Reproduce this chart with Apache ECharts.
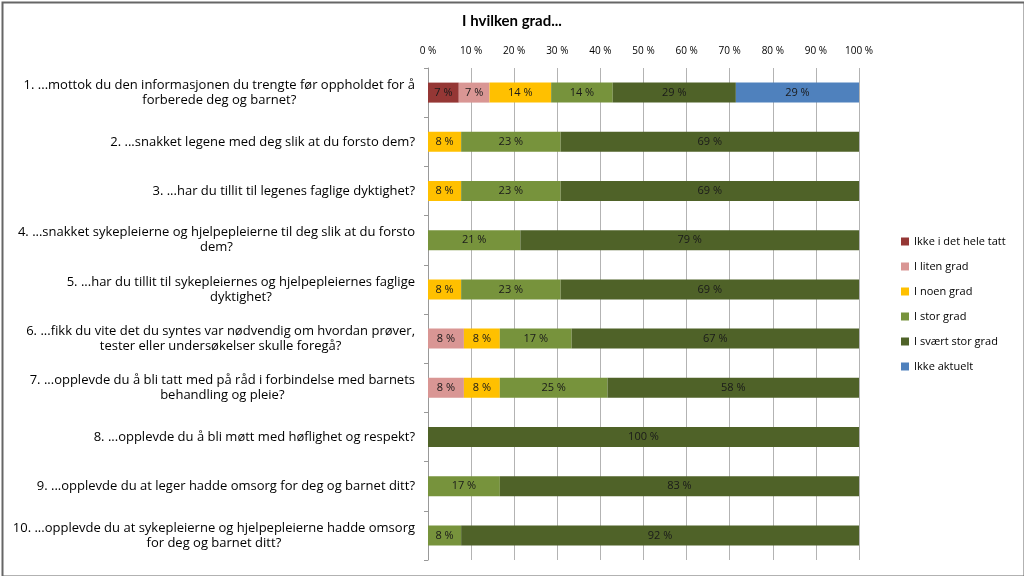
<!DOCTYPE html>
<html><head><meta charset="utf-8">
<script src="https://cdn.jsdelivr.net/npm/echarts@6/dist/echarts.min.js"></script>
<style>html,body{margin:0;padding:0;background:#fff}#c{width:1024px;height:576px}</style>
</head><body><div id="c"></div>
<script>
const categories = [
  "1. ...mottok du den informasjonen du trengte før oppholdet for å\nforberede deg og barnet?",
  "2. ...snakket legene med deg slik at du forsto dem?",
  "3. ...har du tillit til legenes faglige dyktighet?",
  "4. ...snakket sykepleierne og hjelpepleierne til deg slik at du forsto\ndem?",
  "5. ...har du tillit til sykepleiernes og hjelpepleiernes faglige\ndyktighet?",
  "6. ...fikk du vite det du syntes var nødvendig om hvordan prøver,\ntester eller undersøkelser skulle foregå?",
  "7. ...opplevde du å bli tatt med på råd i forbindelse med barnets\nbehandling og pleie?",
  "8. ...opplevde du å bli møtt med høflighet og respekt?",
  "9. ...opplevde du at leger hadde omsorg for deg og barnet ditt?",
  "10. ...opplevde du at sykepleierne og hjelpepleierne hadde omsorg\nfor deg og barnet ditt?"
];
const seriesNames = ["Ikke i det hele tatt", "I liten grad", "I noen grad", "I stor grad", "I svært stor grad", "Ikke aktuelt"];
const ikkeIDetHeleTatt = [7.14, 0, 0, 0, 0, 0, 0, 0, 0, 0];
const iLitenGrad       = [7.14, 0, 0, 0, 0, 8.33, 8.33, 0, 0, 0];
const iNoenGrad        = [14.29, 7.69, 7.69, 0, 7.69, 8.33, 8.33, 0, 0, 0];
const iStorGrad        = [14.29, 23.08, 23.08, 21.43, 23.08, 16.67, 25.0, 0, 16.67, 7.69];
const iSvaertStorGrad  = [28.57, 69.23, 69.23, 78.57, 69.23, 66.67, 58.34, 100, 83.33, 92.31];
const ikkeAktuelt      = [28.57, 0, 0, 0, 0, 0, 0, 0, 0, 0];
const xTicks = [0, 10, 20, 30, 40, 50, 60, 70, 80, 90, 100];
const colors = ["#953735", "#D99694", "#FFC000", "#77933C", "#4F6228", "#4F81BD"];

const allData = [ikkeIDetHeleTatt, iLitenGrad, iNoenGrad, iStorGrad, iSvaertStorGrad, ikkeAktuelt];
const FONT = "Open Sans";

const chart = echarts.init(document.getElementById('c'));
chart.setOption({
  animation: false,
  color: colors,
  title: {
    text: "I hvilken grad...",
    left: 'center', top: 9,
    textStyle: {fontFamily: "Lato", fontSize: 15, fontWeight: 'bold', color: '#000'}
  },
  legend: {
    orient: 'vertical', left: 896, top: 229,
    itemWidth: 8, itemHeight: 8, itemGap: 10, icon: 'rect',
    textStyle: {fontFamily: FONT, fontSize: 11, color: '#000', lineHeight: 15},
    data: seriesNames
  },
  grid: {left: 428, right: 165, top: 68, bottom: 16, containLabel: false},
  xAxis: {
    type: 'value', position: 'top', min: xTicks[0], max: xTicks[xTicks.length - 1], interval: 10,
    axisLine: {show: false}, axisTick: {show: false},
    axisLabel: {formatter: '{value} %', fontFamily: FONT, fontSize: 10, color: '#000', margin: 12},
    splitLine: {show: true, lineStyle: {color: '#B3B3B3', width: 1}}
  },
  yAxis: {
    type: 'category', inverse: true, data: categories,
    axisLine: {show: true, lineStyle: {color: '#999'}},
    axisTick: {show: true, length: 4, lineStyle: {color: '#999'}},
    axisLabel: {
      margin: 13, align: 'right', color: '#000',
      formatter: v => v.split('\n').map(s => '{c|' + s + '}').join('\n'),
      rich: {c: {align: 'center', fontFamily: FONT, fontSize: 13, color: '#000', lineHeight: 15}}
    }
  },
  series: seriesNames.map((name, i) => ({
    name, type: 'bar', stack: 'total', barWidth: 20,
    data: allData[i],
    label: {
      show: true, position: 'inside', fontFamily: FONT, fontSize: 11, color: '#1a1a1a',
      formatter: p => p.value > 0 ? Math.round(p.value) + ' %' : ''
    }
  })),
  graphic: [{
    type: 'rect', left: 0, top: 0, z: 100, silent: true,
    shape: {x: 1, y: 1, width: 1022, height: 574},
    style: {fill: 'none', stroke: '#666', lineWidth: 2}
  }]
});
</script></body></html>
